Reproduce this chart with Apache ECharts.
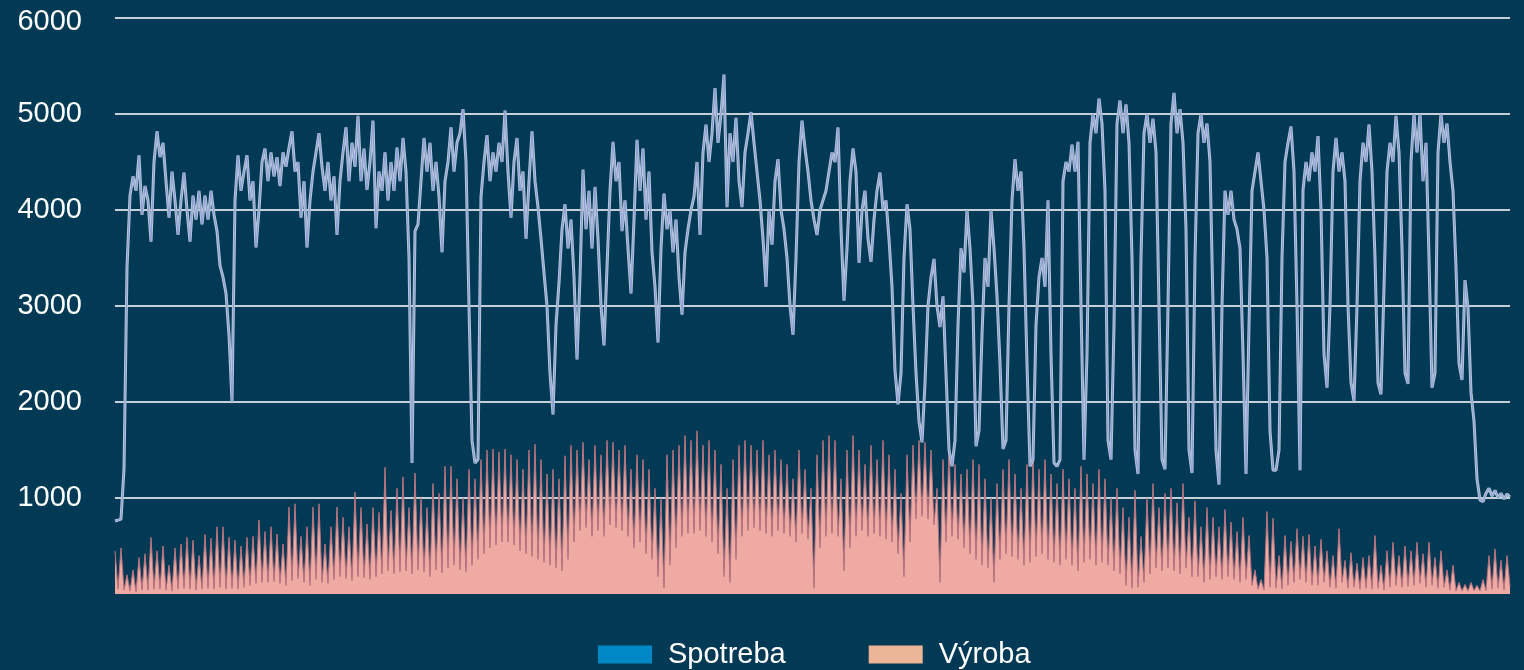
<!DOCTYPE html>
<html>
<head>
<meta charset="utf-8">
<script src="https://cdn.jsdelivr.net/npm/echarts@6/dist/echarts.min.js"></script>
<style>
html,body{margin:0;padding:0;background:#023a55;}
#chart{width:1524px;height:670px;}
</style>
</head>
<body>
<div id="chart"></div>
<script>
// Y axis ticks
const yTicks = [0, 1000, 2000, 3000, 4000, 5000, 6000];

// Spotreba (consumption) — sampled along the year
const spotreba = [
760,770,780,1300,3400,4150,4350,4200,4570,3950,
4250,4100,3670,4500,4820,4550,4700,4300,3920,4400,
4100,3740,4100,4390,4000,3670,4150,3900,4200,3850,
4150,3900,4200,3950,3780,3420,3300,3130,2700,2000,
4100,4570,4200,4400,4570,4100,4300,3610,4000,4500,
4640,4300,4600,4350,4550,4250,4600,4450,4650,4820,
4400,4500,3920,4300,3610,4100,4400,4600,4800,4450,
4200,4500,4100,4350,3740,4300,
4600,4860,4300,4700,4450,4980,4300,4640,4210,4500,
4930,3810,4400,4200,4600,4100,4500,4200,4650,4300,
4750,4400,3500,1364,3780,3850,4300,4750,4400,4700,
4200,4500,4140,3560,4300,4500,4860,4400,4700,4800,
5050,4500,3000,1600,1364,1400,4140,4500,4780,4300,
4600,4400,4700,4500,5036,4400,3920,4500,4750,4200,
4400,3700,4300,4820,4300,4030,3700,3344,3000,2300,
1870,2800,3240,3800,4060,3600,3900,3300,
2444,3300,4420,3800,4200,3600,4240,3700,3000,2590,
3400,4200,4710,4300,4500,3780,4100,3600,3130,3900,
4730,4200,4640,3900,4400,3560,3200,2620,3600,4170,
3800,4000,3560,3900,3300,2910,3560,3800,4000,4140,
4500,3740,4600,4890,4500,4800,5270,4700,5000,5410,
4030,4800,4500,4960,4300,4030,4600,4800,5020,4700,
4400,4100,3700,3200,4000,3640,4300,4530,4000,3800,
3500,3000,2700,3500,4500,4930,
4640,4400,4100,3900,3740,4000,4100,4200,4400,4600,
4500,4860,3800,3056,3600,4300,4640,4400,3450,4000,
4200,3700,3460,3900,4200,4390,4000,4100,3700,3200,
2330,1976,2300,3500,4060,3800,3000,2300,1800,1580,
2200,3000,3300,3490,3000,2780,3100,2300,1500,1330,
1600,2800,3600,3350,4000,3600,3000,1540,1700,2700,
3500,3200,4000,3600,3100,2400,1510,1600,3000,4100,
4530,4200,4400,3600,2400,1330,
1400,2800,3300,3500,3200,4100,2500,1364,1330,1400,
4300,4500,4400,4680,4400,4710,3000,1400,2500,4700,
5000,4800,5160,4900,4200,1600,1400,2800,4900,5140,
4800,5100,4700,3500,1500,1250,3500,4800,5000,4700,
4950,4600,3000,1400,1300,3000,4900,5220,4800,5050,
4700,3800,1500,1260,3500,4800,5000,4700,4900,4500,
3000,1500,1140,3000,4200,3950,4200,3900,3800,3600,
2500,1250,2800,4200,4400,4600,4300,
4000,3500,1700,1290,1290,1500,3500,4500,4700,4870,
4400,3000,1290,4210,4500,4300,4600,4400,4770,4000,
2500,2150,3000,4400,4750,4400,4600,4300,3000,2200,
2010,3000,4300,4700,4500,4890,4400,3500,2200,2080,
3200,4400,4700,4500,4980,4600,3600,2300,2190,4500,
5000,4600,5000,4300,4700,3500,2150,2300,4600,5000,
4700,4900,4500,4200,3400,2400,2230,3270,2980,2100,
1800,1200,980,960,1050,1100,1020,1080,1000,1050,
990,1040,1010
];

// Výroba (production) — daily peaks and troughs
const vyroba = [
450,50,480,40,200,30,250,20,380,40,
420,40,590,50,450,50,500,40,300,30,
480,50,520,60,590,50,560,40,400,50,
620,60,580,50,700,70,700,50,590,60,
560,50,500,70,590,90,600,110,770,120,
650,120,700,130,625,110,520,90,906,140,
940,160,600,120,700,90,906,150,940,120,
520,110,700,150,906,180,800,160,700,140,
1060,180,900,170,730,150,900,180,850,210,
1320,240,870,210,1100,230,1220,240,900,210,
1260,250,1000,230,900,180,1150,250,1050,220,
1330,270,1330,300,1200,250,1000,230,1300,300,
1200,360,1400,420,1500,480,1510,510,1480,540,
1510,540,1450,510,1400,450,1300,420,1500,390,
1560,360,1400,330,1250,300,1300,270,1200,240,
1440,360,1550,540,1500,660,1580,690,1400,600,
1550,660,1450,600,1600,720,1580,690,1500,660,
1550,600,1300,480,1450,540,1400,420,1300,360,
1100,180,1000,60,1450,300,1500,480,1550,600,
1650,630,1600,630,1700,660,1550,600,1600,540,
1500,420,1350,180,1100,120,1400,360,1550,600,
1600,660,1550,690,1500,660,1600,630,1450,600,
1500,660,1400,630,1350,600,1200,540,1500,630,
1300,570,1100,60,1450,480,1600,600,1650,630,
1600,600,1200,240,1500,480,1650,600,1500,660,
1350,600,1550,630,1400,600,1600,570,1450,540,
1300,420,1050,180,1450,540,1550,780,1600,810,
1580,780,1500,720,1100,120,1400,540,1500,600,
1350,570,1250,480,1300,420,1400,360,1350,300,
1200,270,1000,120,1150,360,1300,420,1400,390,
1250,360,1100,300,1350,330,1440,390,1300,420,
1400,360,1250,330,1150,300,1300,360,1200,300,
1100,240,1330,330,1250,360,1150,300,1300,330,
1200,300,1000,240,1100,210,900,90,800,60,
1080,70,600,120,1000,210,1150,270,900,240,
1050,270,1100,240,950,210,1150,270,800,180,
970,180,700,120,900,150,800,180,700,150,
880,180,750,150,650,120,800,150,610,90,
250,50,150,40,860,70,790,60,400,50,
610,90,550,120,680,150,600,120,620,90,
500,90,570,120,450,70,400,60,680,120,
350,60,430,70,320,50,380,60,400,50,
610,60,300,40,450,70,540,90,400,70,
500,80,450,90,540,110,420,70,540,90,
380,60,450,70,250,40,300,30,120,30,
100,30,120,35,90,30,150,35,400,50,
470,60,350,40,400,80
];

const seriesNames = ['Spotreba', 'Výroba'];
const categories = spotreba.map((_, i) => i);
const FONT = 'Liberation Sans, Arial, sans-serif';

const chart = echarts.init(document.getElementById('chart'), null, {renderer: 'canvas'});
chart.setOption({
  backgroundColor: '#023a55',
  animation: false,
  grid: {left: 115, right: 14, top: 18, bottom: 76, containLabel: false},
  legend: {
    data: [
      {name: seriesNames[0], itemStyle: {color: '#0088c6'}},
      {name: seriesNames[1], itemStyle: {color: '#ecb597'}}
    ],
    icon: 'rect',
    left: 598,
    top: 640,
    padding: 0,
    itemWidth: 54,
    itemHeight: 18,
    itemGap: 83,
    textStyle: {color: '#ffffff', fontSize: 29, fontFamily: FONT, padding: [0, 0, 0, 11]}
  },
  xAxis: {
    type: 'category',
    data: categories,
    boundaryGap: false,
    show: false
  },
  yAxis: {
    type: 'value',
    min: yTicks[0],
    max: yTicks[yTicks.length - 1],
    interval: 1000,
    axisLine: {show: false},
    axisTick: {show: false},
    axisLabel: {
      color: '#ffffff',
      fontSize: 29,
      fontFamily: FONT,
      margin: 33,
      formatter: v => (v === 0 ? '' : (v === 6000 ? '{top|' + v + '}' : String(v))),
      rich: {top: {color: '#ffffff', fontSize: 29, fontFamily: FONT, padding: [8, 0, 0, 0]}}
    },
    splitLine: {
      lineStyle: {
        color: ['transparent', '#c6d0d8', '#c6d0d8', '#c6d0d8', '#c6d0d8', '#c6d0d8', '#c6d0d8'],
        width: 2
      }
    }
  },
  series: [
    {
      name: seriesNames[1],
      type: 'line',
      data: vyroba,
      symbol: 'none',
      z: 2,
      itemStyle: {color: '#ecb597'},
      lineStyle: {color: '#b9737e', width: 1},
      areaStyle: {color: '#eeaaa3', opacity: 1}
    },
    {
      name: seriesNames[0],
      type: 'line',
      data: spotreba,
      symbol: 'none',
      z: 3,
      itemStyle: {color: '#0088c6'},
      lineStyle: {color: '#b6c6d8', width: 3}
    },
    {
      name: 'Spotreba-core',
      type: 'line',
      data: spotreba,
      symbol: 'none',
      z: 4,
      silent: true,
      itemStyle: {color: '#0088c6'},
      lineStyle: {color: '#8a9bd6', width: 1}
    }
  ]
});
</script>
</body>
</html>
